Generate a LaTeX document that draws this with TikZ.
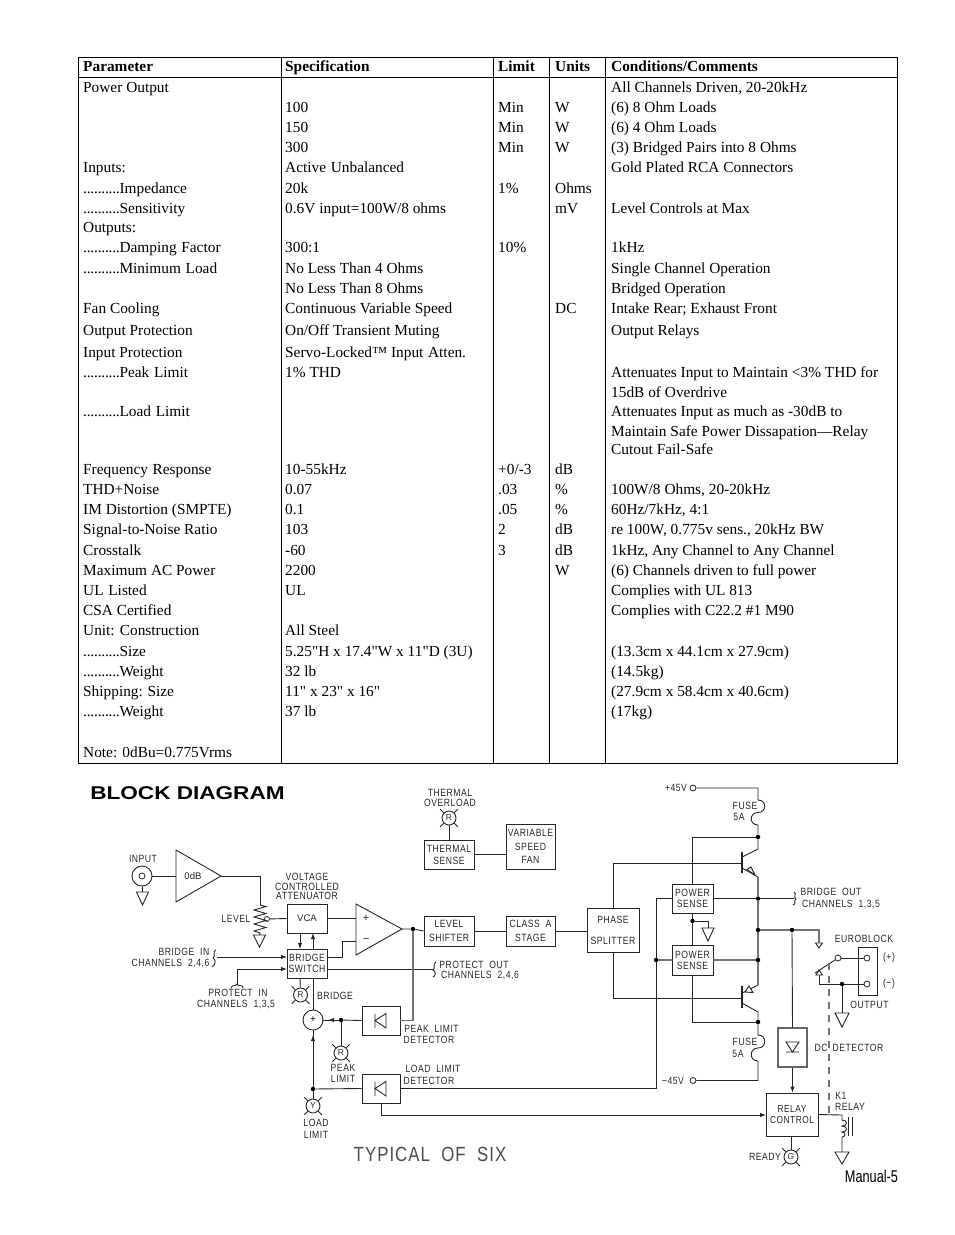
\documentclass[tikz,border=0pt]{standalone}
\usepackage{fontspec}
\setmainfont{Liberation Serif}
\newfontfamily\rawserif[Ligatures=ResetAll]{Liberation Serif}
\newfontfamily\cad[LetterSpace=5,FakeStretch=.82]{Liberation Sans}
\newfontfamily\plainsans{Liberation Sans}
\usetikzlibrary{arrows.meta,calc}
\newcount\cellno
\def\cell#1#2#3{\global\advance\cellno by 1 \node[tbl] (t\the\cellno) at (#1,#2) {#3};}
\def\cellif#1#2#3{\if\relax\detokenize{#3}\relax\else\cell{#1}{#2}{#3}\fi}
\def\R#1#2#3#4#5#6{\cellif{83}{#1+5}{#2}\cellif{285}{#1+5}{#3}\cellif{498}{#1+5}{#4}\cellif{555}{#1+5}{#5}\cellif{611}{#1+5}{#6}}
\def\lab#1#2#3{\global\advance\cellno by 1 \node[lbl] (t\the\cellno) at (#1,#2) {#3};}
\def\lamp#1#2#3#4{\node[lampc] (#1) at (#2,#3) {#4};
  \draw[wire] (#1.45) -- ++(3.5,-3.5) (#1.135) -- ++(-3.5,-3.5) (#1.225) -- ++(-3.5,3.5) (#1.315) -- ++(3.5,3.5);}
\def\gnd#1#2#3#4#5{\coordinate (#1) at (#2,#3);
  \draw[wire] ($(#1)+(-#4,0)$) -- ($(#1)+(#4,0)$) -- ($(#1)+(0,#5)$) -- cycle;}
\def\dk{.\kern-.2pt\relax}
\def\dd{\dk\dk\dk\dk\dk\dk\dk\dk\dk\dk}
\def\ws{\hspace{4.7pt}}
\def\qq{{\rawserif"}}
\tikzset{
  x=1pt,y=-1pt,
  tbl/.style={anchor=base west,inner sep=0pt,font=\fontsize{15.35}{18}\selectfont},
  lbl/.style={inner sep=0pt,align=center,text=black!85,font=\cad\fontsize{10.5}{11}\selectfont},
  blk/.style={draw=black!85,line width=.9pt,inner sep=0pt,align=center,text=black!85,font=\cad\fontsize{10.5}{12}\selectfont},
  lampc/.style={draw=black!85,circle,line width=.9pt,minimum size=14pt,inner sep=0pt,text=black!85,font=\plainsans\fontsize{8.5}{10}\selectfont},
  dot/.style={circle,fill=black,inner sep=0pt,minimum size=4.5pt},
  pinc/.style={circle,draw=black!85,fill=white,line width=.8pt,inner sep=0pt,minimum size=#1},
  pinc/.default=6pt,
  wire/.style={draw=black!85,line width=.9pt},
  gwire/.style={draw=black!55,line width=1.3pt},
  rule/.style={draw=black,line width=.8pt},
  arw/.style={wire,-{Latex[length=6pt,width=4.4pt]}},
}
\begin{document}
\begin{tikzpicture}
\useasboundingbox (0,0) rectangle (954,1235);
% table
\draw[rule] (78.5,57.5) rectangle (897.5,763);
\draw[rule] (78.5,77.5) -- (897.5,77.5);
\draw[rule] (281,57.5) -- (281,763) (493,57.5) -- (493,763) (549,57.5) -- (549,763) (605,57.5) -- (605,763);
\R{66}{\textbf{Parameter}}{\textbf{Specification}}{\textbf{Limit}}{\textbf{Units}}{\textbf{Conditions/Comments}}
\R{87}{Power Output}{}{}{}{All Channels Driven, 20-20kHz}
\R{107}{}{100}{Min}{W}{(6) 8 Ohm Loads}
\R{127}{}{150}{Min}{W}{(6) 4 Ohm Loads}
\R{147}{}{300}{Min}{W}{(3) Bridged Pairs into 8 Ohms}
\R{167}{Inputs:}{Active\ws Unbalanced}{}{}{Gold Plated RCA Connectors}
\R{188}{\dd Impedance}{20k}{1\%}{Ohms}{}
\R{208}{\dd Sensitivity}{0.6V input=100W/8 ohms}{}{mV}{Level Controls at Max}
\R{227}{Outputs:}{}{}{}{}
\R{247}{\dd Damping\ws Factor}{300:1}{10\%}{}{1kHz}
\R{268}{\dd Minimum\ws Load}{No Less Than 4 Ohms}{}{}{Single Channel Operation}
\R{288}{}{No Less Than 8 Ohms}{}{}{Bridged Operation}
\R{308}{Fan Cooling}{Continuous Variable Speed}{}{DC}{Intake Rear; Exhaust Front}
\R{330}{Output Protection}{On/Off Transient Muting}{}{}{Output Relays}
\R{352}{Input Protection}{Servo-Locked™ Input\ws Atten.}{}{}{}
\R{372}{\dd Peak\ws Limit}{1\% THD}{}{}{Attenuates Input to Maintain <3\% THD for}
\R{392}{}{}{}{}{15dB of Overdrive}
\R{411}{\dd Load\ws Limit}{}{}{}{Attenuates Input as much as -30dB to}
\R{431}{}{}{}{}{Maintain Safe Power Dissapation—Relay}
\R{449}{}{}{}{}{Cutout Fail-Safe}
\R{469}{Frequency\ws Response}{10-55kHz}{+0/-3}{dB}{}
\R{489}{THD+Noise}{0.07}{.03}{\%}{100W/8 Ohms, 20-20kHz}
\R{509}{IM Distortion (SMPTE)}{0.1}{.05}{\%}{60Hz/7kHz, 4:1}
\R{529}{Signal-to-Noise Ratio}{103}{2}{dB}{re 100W, 0.775v sens., 20kHz BW}
\R{550}{Crosstalk}{-60}{3}{dB}{1kHz, Any Channel to Any Channel}
\R{570}{Maximum AC Power}{2200}{}{W}{(6) Channels driven to full power}
\R{590}{UL\ws Listed}{UL}{}{}{Complies with UL 813}
\R{610}{CSA Certified}{}{}{}{Complies with C22.2 \#1 M90}
\R{630}{Unit: Construction}{All Steel}{}{}{}
\R{651}{\dd Size}{5.25\qq H x 17.4\qq W x 11\qq D (3U)}{}{}{(13.3cm x 44.1cm x 27.9cm)}
\R{671}{\dd Weight}{32 lb}{}{}{(14.5kg)}
\R{691}{Shipping:\ws Size}{11\qq\ x 23\qq\ x 16\qq}{}{}{(27.9cm x 58.4cm x 40.6cm)}
\R{711}{\dd Weight}{37 lb}{}{}{(17kg)}
\R{752}{Note: 0dBu=0.775Vrms}{}{}{}{}
% titles
\node[inner sep=0pt] (title) at (187.5,793.5) {\scalebox{1.22}[1]{\plainsans\bfseries\fontsize{18.5}{20}\selectfont BLOCK DIAGRAM}};
\node[inner sep=0pt,text=black!70] (typ) at (430,1154) {\cad\fontsize{20.5}{22}\selectfont TYPICAL\ \ OF\ \ SIX};
\node[inner sep=0pt] (manual) at (871.5,1176) {\scalebox{.75}[1]{\plainsans\fontsize{17}{20}\selectfont Manual-5}};
% boxes
\node[blk,minimum width=50pt,minimum height=29pt] (thermal) at (449,854.5) {THERMAL\\SENSE};
\node[blk,minimum width=49pt,minimum height=45pt,font=\cad\fontsize{10.5}{13.5}\selectfont] (fan) at (530.5,846.5) {VARIABLE\\SPEED\\FAN};
\node[blk,minimum width=40pt,minimum height=29pt,font=\plainsans\fontsize{9.6}{11}\selectfont] (vca) at (307,918.5) {VCA};
\node[blk,minimum width=40pt,minimum height=29pt,font=\cad\fontsize{10.5}{10.5}\selectfont] (bsw) at (307,963.5) {BRIDGE\\SWITCH};
\node[blk,minimum width=50pt,minimum height=30pt,font=\cad\fontsize{10.5}{14}\selectfont] (lvl) at (449,931) {LEVEL\\SHIFTER};
\node[blk,minimum width=49pt,minimum height=30pt,font=\cad\fontsize{10.5}{14}\selectfont] (cls) at (530.5,931) {CLASS\ \ A\\STAGE};
\node[blk,minimum width=52pt,minimum height=44pt,font=\cad\fontsize{10.5}{21}\selectfont] (phs) at (613,930) {PHASE\\SPLITTER};
\node[blk,minimum width=41pt,minimum height=29pt,font=\cad\fontsize{10.5}{11}\selectfont] (ps1) at (692.5,898.5) {POWER\\SENSE};
\node[blk,minimum width=41pt,minimum height=30pt,font=\cad\fontsize{10.5}{11}\selectfont] (ps2) at (692.5,960) {POWER\\SENSE};
\node[blk,minimum width=38pt,minimum height=29pt] (peak) at (381,1020.5) {};
\node[blk,minimum width=38pt,minimum height=29pt] (load) at (381,1088.5) {};
\node[blk,minimum width=29pt,minimum height=39pt,draw=black!60,line width=1.2pt] (dc) at (792.5,1047.5) {};
\node[blk,minimum width=52pt,minimum height=43pt,font=\cad\fontsize{10.2}{11}\selectfont] (rly) at (792,1114.5) {RELAY\\CONTROL};
\node[blk,minimum width=19pt,minimum height=48pt] (euro) at (867.5,971) {};
% lamps
\lamp{lampTh}{449}{818}{R}
\lamp{lampBr}{300.5}{995}{R}
\lamp{lampPk}{341}{1053}{R}
\lamp{lampLd}{313}{1106}{Y}
\lamp{lampRdy}{791}{1157}{G}
% summer, jack, small circles
\node[draw=black!85,circle,line width=.9pt,minimum size=20pt,inner sep=0pt,font=\plainsans\fontsize{10}{10}\selectfont] (sum) at (313,1020) {+};
\node[draw=black!85,circle,line width=.9pt,minimum size=20pt,inner sep=0pt] (jack) at (142,876) {};
\node[pinc] (jacki) at (142,876) {};
\node[pinc=5pt] (wiper) at (267,919) {};
\node[pinc] (p45) at (693,788) {};
\node[pinc] (m45) at (693,1080.5) {};
\node[pinc] (swc) at (838,958) {};
\node[pinc] (eu1) at (867,958) {};
\node[pinc] (eu2) at (867,984) {};
% dots
\node[dot] (dOut) at (413,929) {};
\node[dot] (dPk) at (341,1020) {};
\node[dot] (dLd) at (313,1089) {};
\node[dot] (dUp) at (758,837) {};
\node[dot] (dLo) at (758,1022) {};
\node[dot] (dB1) at (758,898.5) {};
\node[dot] (dMid) at (758,930) {};
\node[dot] (dB2) at (758,960) {};
\node[dot] (dDC) at (792,930) {};
\node[dot] (dSG) at (692.5,921) {};
\node[dot] (dV) at (656,960) {};
\node[dot] (dGnd) at (842,984) {};
% amps
\coordinate (a1t) at (176,850); \coordinate (a1b) at (176,902); \coordinate (a1o) at (221,876); \coordinate (a1i) at (176,876);
\draw[wire] (a1t) -- (a1o) -- (a1b) -- cycle;
\coordinate (a2t) at (356,904); \coordinate (a2b) at (356,955); \coordinate (a2o) at (402,929);
\coordinate (a2p) at (356,918.5); \coordinate (a2m) at (356,941);
\draw[wire] (a2t) -- (a2o) -- (a2b) -- cycle;
% grounds
\gnd{gJack}{142.5}{892}{6}{13}
\gnd{gLvl}{259.5}{935}{6}{12}
\gnd{gSns}{708}{928}{6}{13}
\gnd{gSw}{819}{943}{3.5}{5}
\gnd{gOut}{842}{1013}{7}{14}
\gnd{gRly}{842}{1152}{7}{12}
% resistor
\coordinate (rTop) at (260,905); \coordinate (rBot) at (260,933);
\draw[wire] (rTop) -- (266,906.5) -- (254,910) -- (266,913.5) -- (254,917) -- (266,920.5) -- (254,924) -- (266,927.5) -- (254,931) -- (rBot) -- (gLvl);
% connectors
\coordinate (jr) at (260,876);
\draw[wire] (jack) -- (a1i);
\draw[wire] (jack) -- (gJack);
\draw[wire] (a1o) -- (jr) -- (rTop);
\draw[wire] (wiper) -- (vca.west);
\draw[wire] (vca.east) -- (a2p);
\draw[wire] (a2o) -- (dOut) -- (lvl.west);
\draw[wire] (lvl.east) -- (cls.west);
\draw[wire] (cls.east) -- (phs.west |- cls.east);
\draw[wire] (lampTh) -- (thermal.north -| lampTh);
\draw[wire] (thermal.east) -- (fan.west |- thermal.east);
% vca <-> bridge switch
\coordinate (va) at (300,933); \coordinate (vb) at (313,933);
\coordinate (sa) at (300,949); \coordinate (sb) at (313,949);
\draw[arw] (va) -- (sa);
\draw[arw] (sb) -- (vb);
% bridge switch I/O
\coordinate (bi) at (217,957); \coordinate (bis) at (287,957);
\coordinate (pi) at (237,985); \coordinate (pic) at (237,969); \coordinate (pis) at (287,969);
\coordinate (bo1) at (342,957); \coordinate (bo2) at (342,941);
\coordinate (bo0) at (327,957); \coordinate (po0) at (327,969); \coordinate (pout) at (433,969);
\draw[arw] (bi) -- (bis);
\draw[arw] (pi) -- (pic) -- (pis);
\draw[wire] (bo0) -- (bo1) -- (bo2) -- (a2m);
\draw[wire] (po0) -- (pout);
\draw[wire] (sa |- bsw.south) -- (lampBr);
\draw[wire] (sb |- bsw.south) -- (sum);
% braces
\draw[wire] (216,950) .. controls (212,951) and (216,957) .. (213,958) .. controls (216,959) and (216,965) .. (212,967);
\draw[wire] (231,988) .. controls (232,984) and (236,987) .. (237,984) .. controls (238,987) and (243,984) .. (243,988);
\draw[wire] (436,962) .. controls (432,963) and (436,969) .. (433,970) .. controls (436,971) and (436,976) .. (433,977);
\draw[wire] (794,892) .. controls (797,893) and (793,898) .. (796,899) .. controls (793,900) and (797,904) .. (793,905);
% limiters
\coordinate (dv1) at (413,1020.5);
\draw[gwire] (dOut) -- (dv1) -- (peak.east);
\draw[wire] (dPk) -- (peak.west);
\draw[wire] (sum) -- (dPk);
\coordinate (h1) at (335,1020); \coordinate (h2) at (328,1020);
\draw[arw] (h1) -- (h2);
\coordinate (h3) at (313,1042); \coordinate (h4) at (313,1035);
\draw[arw] (h3) -- (h4);
\draw[wire] (sum) -- (dLd) -- (lampLd);
\draw[wire] (dPk) -- (lampPk);
\draw[wire] (dLd) -- (load.west);
% diode symbols
\draw[wire] (375,1013.5) -- (375,1028) (386,1013.5) -- (375,1020.5) -- (386,1028) -- cycle;
\draw[wire] (375,1081.5) -- (375,1096) (386,1081.5) -- (375,1088.5) -- (386,1096) -- cycle;
\draw[wire] (786,1042) -- (799,1042) -- (792.5,1052) -- cycle (786,1052) -- (799,1052);
% load output paths
\coordinate (lv1) at (656,1088.5); \coordinate (lv2) at (656,898.5);
\draw[wire] (load.east) -- (lv1) -- (dV) -- (lv2) -- (ps1.west);
\draw[gwire] (dV) -- (ps2.west);
\coordinate (ld1) at (381,1115); \coordinate (ldr) at (766,1115);
\draw[arw] (load.south) -- (ld1) -- (ldr);
% transistors
\coordinate (qub) at (742,863); \coordinate (qlb) at (742,998);
\draw[wire] (phs.north) |- (qub);
\draw[wire] (phs.south) |- (qlb);
\draw[wire,line width=1.1pt] (742,852) -- (742,873) (742,986) -- (742,1008);
\draw[wire] (742,857) -- (758,849);
\draw[wire] (742,868) -- (758,877);
\draw[wire,fill=white] (747,869.5) -- (755,875) -- (751,867) -- cycle;
\draw[wire] (742,1003) -- (758,1012);
\draw[wire] (742,993) -- (758,985);
\draw[wire,fill=white] (745,992) -- (753,992.5) -- (749,986) -- cycle;
% rails and fuses
\coordinate (r45) at (758,788); \coordinate (f1a) at (758,800); \coordinate (f1b) at (758,812.5); \coordinate (f1c) at (758,825);
\coordinate (qc) at (758,849); \coordinate (qe) at (758,877); \coordinate (qle) at (758,985); \coordinate (qlc) at (758,1012);
\coordinate (f2a) at (758,1035); \coordinate (f2b) at (758,1048); \coordinate (f2c) at (758,1061); \coordinate (rm45) at (758,1080.5);
\draw[wire] (p45) -- (r45) -- (f1a) .. controls +(9,0) and +(9,0) .. (f1b) .. controls +(-9,0) and +(-9,0) .. (f1c) -- (dUp) -- (qc);
\draw[wire] (qlc) -- (dLo) -- (f2a) .. controls +(9,0) and +(9,0) .. (f2b) .. controls +(-9,0) and +(-9,0) .. (f2c) -- (rm45) -- (m45);
\draw[gwire] (qe) -- (dB1) -- (dMid) -- (dB2) -- (qle);
\draw[wire] (dUp) -| (ps1.north);
\draw[wire] (dLo) -| (ps2.south);
\draw[wire] (ps1.south) -- (dSG) -- (ps2.north);
\coordinate (sg) at (708,921);
\draw[wire] (dSG) -- (sg) -- (gSns);
\coordinate (bout) at (794,898.5);
\draw[wire] (ps1.east) -- (dB1) -- (bout);
\draw[gwire] (ps2.east) -- (dB2);
% output relay
\coordinate (swg) at (819,930);
\draw[gwire] (dMid) -- (dDC) -- (swg) -- (gSw);
\draw[wire] (dDC) -- (dc.north);
\draw[arw] (dc.south) -- (dc.south |- rly.north);
\draw[wire] (rly.south -| lampRdy) -- (lampRdy);
\coordinate (arm) at (815,973);
\draw[wire] (swc) -- (arm);
\draw[wire,fill=white] (816,975) -- (822.5,975) -- (819,970) -- cycle;
\coordinate (ct) at (819,975); \coordinate (cb) at (819,984);
\draw[wire] (swc) -- (eu1);
\draw[wire] (ct) -- (cb) -- (dGnd) -- (eu2);
\draw[wire] (dGnd) -- (gOut);
\coordinate (coil0) at (842,1115); \coordinate (coil1) at (842,1120); \coordinate (coil2) at (842,1126); \coordinate (coil3) at (842,1132);\coordinate (coil4) at (842,1137);
\draw[wire] (rly.east) -- (coil0) -- (coil1) .. controls +(6,0) and +(6,0) .. (coil2) .. controls +(6,0) and +(6,0) .. (coil3) .. controls +(4,0) and +(4,0) .. (coil4) -- (gRly);
\draw[wire] (848,1117) -- (848,1136) (852,1117) -- (852,1136);
\coordinate (dsh1) at (829,963); \coordinate (dsh2) at (829,1115);
\draw[draw=black!55,line width=1.3pt,dash pattern=on 7pt off 6pt] (dsh1) -- (dsh2);
% labels
\lab{143}{859}{INPUT}
\node[inner sep=0pt,text=black!85,font=\plainsans\fontsize{9.6}{11}\selectfont] (zdb) at (193,876) {0dB};
\lab{236}{919}{LEVEL}
\lab{307}{877}{VOLTAGE}
\lab{307}{886.5}{CONTROLLED}
\lab{307}{896}{ATTENUATOR}
\node[inner sep=0pt,text=black!85,font=\plainsans\fontsize{11}{11}\selectfont] (plus) at (366,918.5) {+};
\node[inner sep=0pt,text=black!85,font=\plainsans\fontsize{11}{11}\selectfont] (minus) at (366,940) {−};
\lab{184}{952}{BRIDGE\ \ IN}
\lab{170.5}{963}{CHANNELS\ \ 2,4,6}
\lab{238}{993}{PROTECT\ \ IN}
\lab{236}{1004}{CHANNELS\ \ 1,3,5}
\lab{335}{996}{BRIDGE}
\lab{343}{1068}{PEAK}
\lab{343}{1079}{LIMIT}
\lab{316}{1123}{LOAD}
\lab{316}{1135}{LIMIT}
\lab{431.5}{1029}{PEAK\ \ LIMIT}
\lab{429}{1040}{DETECTOR}
\lab{433}{1069}{LOAD\ \ LIMIT}
\lab{429}{1081}{DETECTOR}
\lab{450}{793}{THERMAL}
\lab{450}{803}{OVERLOAD}
\lab{474}{965}{PROTECT\ \ OUT}
\lab{480}{975}{CHANNELS\ \ 2,4,6}
\lab{676}{787.5}{+45V}
\lab{673}{1081}{−45V}
\lab{745}{806}{FUSE}
\lab{739}{817}{5A}
\lab{745}{1042}{FUSE}
\lab{738}{1054}{5A}
\lab{831}{892}{BRIDGE\ \ OUT}
\lab{841}{904}{CHANNELS\ \ 1,3,5}
\lab{864}{939}{EUROBLOCK}
\lab{889}{958}{(+)}
\lab{889}{984}{(−)}
\lab{869.5}{1005}{OUTPUT}
\lab{821}{1048}{DC}
\lab{858}{1048}{DETECTOR}
\lab{841}{1096}{K1}
\lab{850}{1107}{RELAY}
\lab{765}{1157}{READY}
\end{tikzpicture}
\end{document}
